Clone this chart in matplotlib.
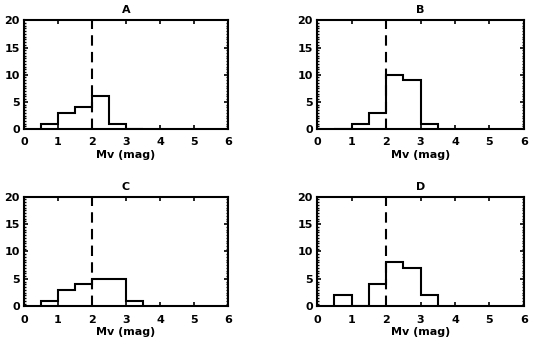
import numpy as np
import matplotlib
matplotlib.use("Agg")
import matplotlib.pyplot as plt
from matplotlib.ticker import MultipleLocator
from matplotlib.font_manager import FontProperties

bin_edges = [0.5, 1.0, 1.5, 2.0, 2.5, 3.0, 3.5]
panel_titles = ["A", "B", "C", "D"]
counts_A = [1, 3, 4, 6, 1, 0]
counts_B = [0, 1, 3, 10, 9, 1]
counts_C = [1, 3, 4, 5, 5, 1]
counts_D = [2, 0, 4, 8, 7, 2]
all_counts = [counts_A, counts_B, counts_C, counts_D]
cut_value = 2.0
x_ticks = [0, 1, 2, 3, 4, 5, 6]
y_ticks = [0, 5, 10, 15, 20]
xlabel_text = "Mv (mag)"

fig = plt.figure(figsize=(5.33, 3.5), dpi=100)
positions = [
    [0.045, 0.631, 0.383, 0.311],
    [0.595, 0.631, 0.388, 0.311],
    [0.045, 0.125, 0.383, 0.313],
    [0.595, 0.125, 0.388, 0.313],
]
font = dict(family="DejaVu Sans", weight="bold", size=8)

for pos, title, counts in zip(positions, panel_titles, all_counts):
    ax = fig.add_axes(pos)
    ax.stairs(counts, bin_edges, color="black", lw=1.5)
    ax.axvline(cut_value, color="black", lw=1.5, dashes=(5, 3))
    ax.set_xlim(0, 6)
    ax.set_ylim(0, 20)
    ax.set_xticks(x_ticks)
    ax.set_yticks(y_ticks)
    ax.yaxis.set_minor_locator(MultipleLocator(0.5))
    ax.tick_params(axis="both", which="major", direction="in", length=3, width=1.2,
                   top=True, right=True)
    ax.tick_params(axis="x", pad=6)
    ax.tick_params(axis="y", pad=3)
    ax.tick_params(axis="y", which="minor", direction="in", length=1.5, width=1,
                   left=True, right=True)
    fp = FontProperties(**font)
    for lab in ax.get_xticklabels() + ax.get_yticklabels():
        lab.set_fontproperties(fp)
    for sp in ax.spines.values():
        sp.set_linewidth(1.5)
    ax.set_title(title, fontdict=font, pad=5)
    ax.set_xlabel(xlabel_text, fontdict=font, labelpad=2)

fig.savefig("out.png", dpi=100)
